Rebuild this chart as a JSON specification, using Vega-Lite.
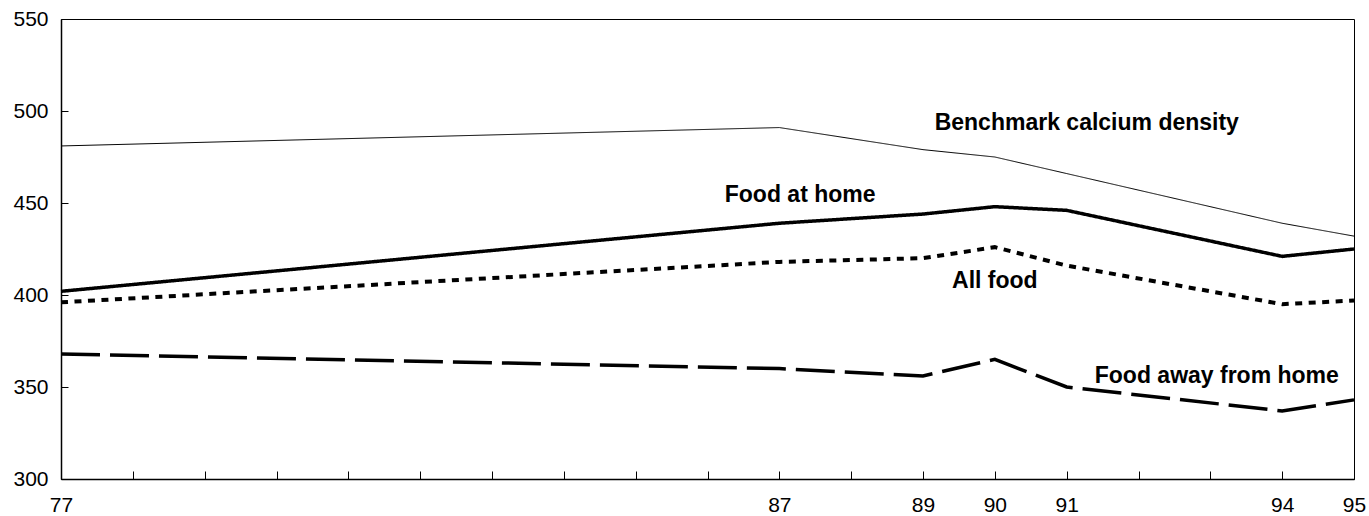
{
  "$schema": "https://vega.github.io/schema/vega-lite/v6.json",
  "width": 1293,
  "height": 460,
  "autosize": {"type": "none"},
  "padding": {"left": 61, "top": 19, "right": 15, "bottom": 37},
  "background": "white",
  "config": {
    "view": {"stroke": "black", "strokeWidth": 1},
    "font": "Liberation Sans",
    "axis": {
      "domainColor": "black",
      "domainWidth": 1.5,
      "tickColor": "black",
      "tickWidth": 1,
      "grid": false,
      "labelFont": "Liberation Sans",
      "labelFontSize": 21,
      "labelColor": "black",
      "title": null
    }
  },
  "datasets": {
    "series": [
      {"series": "Benchmark calcium density", "year": 77, "value": 481},
      {"series": "Benchmark calcium density", "year": 87, "value": 491},
      {"series": "Benchmark calcium density", "year": 89, "value": 479},
      {"series": "Benchmark calcium density", "year": 90, "value": 475},
      {"series": "Benchmark calcium density", "year": 91, "value": 466},
      {"series": "Benchmark calcium density", "year": 94, "value": 439},
      {"series": "Benchmark calcium density", "year": 95, "value": 432},
      {"series": "Food at home", "year": 77, "value": 402},
      {"series": "Food at home", "year": 87, "value": 439},
      {"series": "Food at home", "year": 89, "value": 444},
      {"series": "Food at home", "year": 90, "value": 448},
      {"series": "Food at home", "year": 91, "value": 446},
      {"series": "Food at home", "year": 94, "value": 421},
      {"series": "Food at home", "year": 95, "value": 425},
      {"series": "All food", "year": 77, "value": 396},
      {"series": "All food", "year": 87, "value": 418},
      {"series": "All food", "year": 89, "value": 420},
      {"series": "All food", "year": 90, "value": 426},
      {"series": "All food", "year": 91, "value": 416},
      {"series": "All food", "year": 94, "value": 395},
      {"series": "All food", "year": 95, "value": 397},
      {"series": "Food away from home", "year": 77, "value": 368},
      {"series": "Food away from home", "year": 87, "value": 360},
      {"series": "Food away from home", "year": 89, "value": 356},
      {"series": "Food away from home", "year": 90, "value": 365},
      {"series": "Food away from home", "year": 91, "value": 350},
      {"series": "Food away from home", "year": 94, "value": 337},
      {"series": "Food away from home", "year": 95, "value": 343}
    ],
    "labels": [
      {"label": "Benchmark calcium density", "year": 91.28, "value": 493.5},
      {"label": "Food at home", "year": 87.29, "value": 454.5},
      {"label": "All food", "year": 90.0, "value": 407.8},
      {"label": "Food away from home", "year": 93.09, "value": 356.2}
    ]
  },
  "layer": [
    {
      "data": {"name": "series"},
      "mark": {"type": "line", "color": "black", "strokeCap": "butt"},
      "encoding": {
        "x": {
          "field": "year", "type": "quantitative",
          "scale": {"domain": [77, 95], "nice": false, "zero": false},
          "axis": {
            "values": [77,78,79,80,81,82,83,84,85,86,87,88,89,90,91,92,93,94,95],
            "format": "d",
            "labelExpr": "indexof([77,87,89,90,91,94,95], datum.value) >= 0 ? datum.label : ''",
            "tickSize": -8,
            "labelPadding": 23,
            "labelFlush": false,
            "labelOverlap": false
          }
        },
        "y": {
          "field": "value", "type": "quantitative",
          "scale": {"domain": [300, 550], "nice": false, "zero": false},
          "axis": {
            "values": [300, 350, 400, 450, 500, 550],
            "format": "d",
            "tickSize": -7,
            "labelPadding": 20,
            "labelFlush": false,
            "labelOverlap": false
          }
        },
        "detail": {"field": "series"},
        "strokeDash": {
          "field": "series", "type": "nominal",
          "scale": {
            "type": "ordinal",
            "domain": ["Benchmark calcium density", "Food at home", "All food", "Food away from home"],
            "range": [[1, 0], [1, 0], [7, 6.5], [39, 10]]
          },
          "legend": null
        },
        "strokeWidth": {
          "field": "series", "type": "nominal",
          "scale": {
            "type": "ordinal",
            "domain": ["Benchmark calcium density", "Food at home", "All food", "Food away from home"],
            "range": [1, 3.5, 4, 3.5]
          },
          "legend": null
        }
      }
    },
    {
      "data": {"name": "labels"},
      "mark": {"type": "text", "font": "Liberation Sans", "fontWeight": "bold", "fontSize": 23, "color": "black", "align": "center", "baseline": "middle"},
      "encoding": {
        "x": {"field": "year", "type": "quantitative"},
        "y": {"field": "value", "type": "quantitative"},
        "text": {"field": "label"}
      }
    }
  ]
}
